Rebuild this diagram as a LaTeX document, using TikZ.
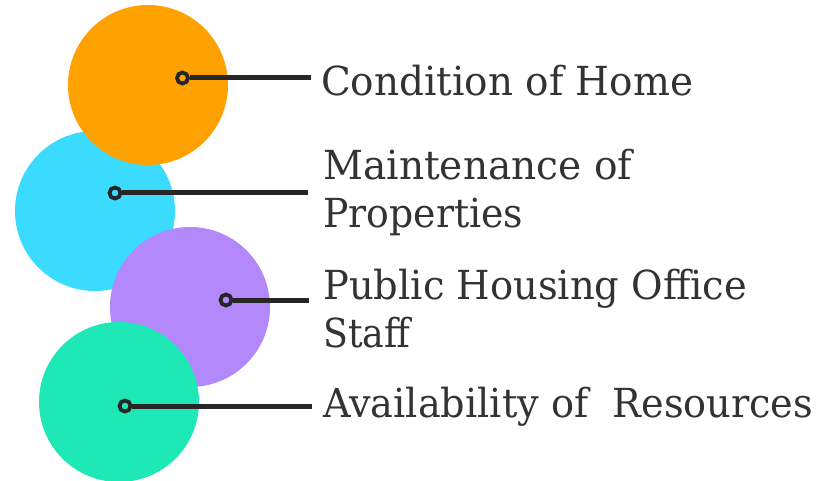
\documentclass[tikz,border=0pt]{standalone}
\usepackage{fontspec}
\setmainfont{DejaVu Serif}
\usepackage{graphicx}
\definecolor{orangec}{RGB}{255,161,0}
\definecolor{cyanc}{RGB}{58,219,255}
\definecolor{purplec}{RGB}{178,136,251}
\definecolor{greenc}{RGB}{30,233,182}
\definecolor{textc}{RGB}{51,51,51}
\definecolor{linec}{RGB}{38,38,38}
\newcommand\fitto[2]{\resizebox{#1}{\height}{#2}}
\begin{document}
\begin{tikzpicture}[x=1pt,y=-1pt,
  blob/.style={circle, minimum size=160pt, inner sep=0pt, draw=none},
  ring/.style={circle, draw=linec, line width=3.8pt, minimum size=11pt, inner sep=0pt},
  conn/.style={draw=linec, line width=5pt},
  lab/.style={anchor=base west, inner sep=0pt, text=textc, font=\fontsize{40}{48}\selectfont}]
\useasboundingbox (0,0) rectangle (835,481);
% circles
\node[blob, fill=cyanc]   (c2) at (95,211) {};
\node[blob, fill=orangec] (c1) at (148,85) {};
\node[blob, fill=purplec] (c3) at (190,307) {};
\node[blob, fill=greenc]  (c4) at (119,402) {};
% dots
\node[ring] (d1) at (182.5,78) {};
\node[ring] (d2) at (115,193) {};
\node[ring] (d3) at (226,300) {};
\node[ring] (d4) at (125,406) {};
% line ends
\coordinate (e1) at (311,78);
\coordinate (e2) at (308,193);
\coordinate (e3) at (309,300);
\coordinate (e4) at (312,406);
\draw[conn] (d1.east) -- (e1);
\draw[conn] (d2.east) -- (e2);
\draw[conn] (d3.east) -- (e3);
\draw[conn] (d4.east) -- (e4);
% labels
\node[lab] (l1)  at (321,95.5)  {\fitto{372pt}{Condition of Home}};
\node[lab] (l2a) at (323,179.5) {\fitto{309pt}{Maintenance of}};
\node[lab] (l2b) at (323,227.5) {\fitto{200pt}{Properties}};
\node[lab] (l3a) at (323,299.5) {\fitto{424pt}{Public Housing Office}};
\node[lab] (l3b) at (323,347.5) {\fitto{87pt}{Staff}};
\node[lab] (l4)  at (323,417)   {\fitto{490pt}{Availability of~ Resources}};
\end{tikzpicture}
\end{document}
